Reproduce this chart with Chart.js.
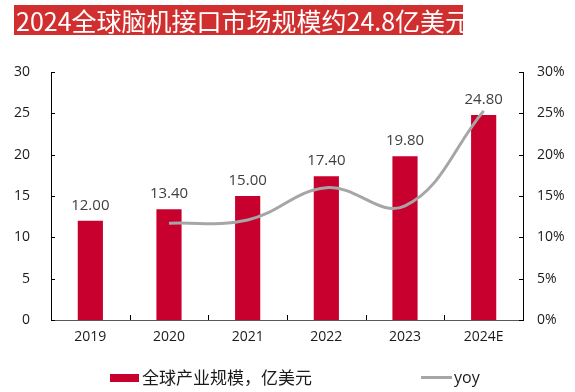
<!DOCTYPE html>
<html>
<head>
<meta charset="utf-8">
<script src="https://cdn.jsdelivr.net/npm/chart.js@4/dist/chart.umd.min.js"></script>
<style>
  body { margin: 0; background: #fff; }
  #wrap { position: relative; width: 575px; height: 392px; overflow: hidden; }
  #chart { position: absolute; left: 0; top: 0; }
  .title {
    position: absolute; left: 14px; top: 5px; width: 449px; height: 30px;
    background: #d12f2f; color: #fff; white-space: nowrap;
    font: 25px/30px "Noto Sans CJK SC", sans-serif; padding-left: 2px; box-sizing: border-box;
  }
  .lg-box { position: absolute; left: 110px; top: 374px; width: 29px; height: 8px; background: #c8002d; }
  .lg-text { position: absolute; top: 366px; font: 17px/22px "Noto Sans CJK SC", sans-serif; color: #1a1a1a; white-space: nowrap; }
  .lg-line { position: absolute; left: 421px; top: 376px; width: 31px; height: 3px; background: #a6a6a6; }
</style>
</head>
<body>
<div id="wrap">
  <canvas id="chart" width="575" height="392"></canvas>
  <div class="title">2024全球脑机接口市场规模约24.8亿美元</div>
  <div class="lg-box"></div>
  <div class="lg-text" style="left:142px">全球产业规模，亿美元</div>
  <div class="lg-line"></div>
  <div class="lg-text" style="left:454px;font-family:'Open Sans',sans-serif;font-size:16px">yoy</div>
</div>
<script>
// data
const years = ['2019', '2020', '2021', '2022', '2023', '2024E'];
const marketSize = [12.0, 13.4, 15.0, 17.4, 19.8, 24.8];
const yoy = [null, 11.7, 12.1, 16.0, 13.8, 25.3];
const leftTicks = [0, 5, 10, 15, 20, 25, 30];
const rightTicks = [0, 5, 10, 15, 20, 25, 30];

const barColor = '#c8002d';
const lineColor = '#a6a6a6';

// value labels above the bars (bar dataset is index 1)
const barLabels = {
    id: 'barLabels',
    afterDatasetsDraw(chart) {
        const ctx = chart.ctx;
        const meta = chart.getDatasetMeta(1);
        ctx.save();
        ctx.font = '15px "Open Sans", sans-serif';
        ctx.fillStyle = '#404040';
        ctx.textAlign = 'center';
        ctx.textBaseline = 'alphabetic';
        meta.data.forEach((bar, i) => {
            ctx.fillText(marketSize[i].toFixed(2), bar.x, bar.y - 11);
        });
        ctx.restore();
    }
};

// small tick marks pointing inside the plot
const innerTicks = {
    id: 'innerTicks',
    afterDraw(chart) {
        const ctx = chart.ctx;
        const area = chart.chartArea;
        const y = chart.scales.y, y1 = chart.scales.y1, x = chart.scales.x;
        ctx.save();
        ctx.strokeStyle = '#000';
        ctx.lineWidth = 1;
        ctx.beginPath();
        leftTicks.forEach(v => {
            const py = Math.round(y.getPixelForValue(v)) + 0.5;
            ctx.moveTo(area.left, py); ctx.lineTo(area.left + 4, py);
        });
        rightTicks.forEach(v => {
            const py = Math.round(y1.getPixelForValue(v)) + 0.5;
            ctx.moveTo(area.right - 4, py); ctx.lineTo(area.right, py);
        });
        const step = x.getPixelForValue(1) - x.getPixelForValue(0);
        for (let i = 1; i < years.length; i++) {
            const px = Math.round(x.getPixelForValue(i) - step / 2) + 0.5;
            ctx.moveTo(px, area.bottom); ctx.lineTo(px, area.bottom - 5);
        }
        ctx.stroke();
        ctx.restore();
    }
};

const config = {
    data: {
        labels: years,
        datasets: [{
            type: 'line',
            label: 'yoy',
            data: yoy,
            yAxisID: 'y1',
            borderColor: lineColor,
            borderWidth: 3,
            tension: 0.4,
            pointRadius: 0,
            fill: false,
            order: 0
        }, {
            type: 'bar',
            label: '全球产业规模，亿美元',
            data: marketSize,
            yAxisID: 'y',
            backgroundColor: barColor,
            barPercentage: 0.32,
            categoryPercentage: 1,
            order: 1
        }]
    },
    options: {
        responsive: false,
        animation: false,
        layout: { padding: { top: 72, bottom: 32, left: 0, right: 0 } },
        plugins: { legend: { display: false }, tooltip: { enabled: false } },
        scales: {
            x: {
                grid: { display: false, drawTicks: false },
                border: { color: '#595959', width: 1 },
                ticks: { color: '#1a1a1a', padding: 9, font: { family: 'Open Sans', size: 14 } },
                afterFit(scale) { scale.height = 40; }
            },
            y: {
                position: 'left',
                min: 0, max: 30,
                grid: { display: false, drawTicks: false },
                border: { color: '#000', width: 1 },
                ticks: { stepSize: 5, color: '#1a1a1a', padding: 21, font: { family: 'Open Sans', size: 14 } },
                afterFit(scale) { scale.width = 51; }
            },
            y1: {
                position: 'right',
                min: 0, max: 30,
                grid: { display: false, drawTicks: false },
                border: { color: '#000', width: 1 },
                ticks: {
                    stepSize: 5, color: '#1a1a1a', padding: 14, font: { family: 'Open Sans', size: 14 },
                    callback: v => v + '%'
                },
                afterFit(scale) { scale.width = 52; }
            }
        }
    },
    plugins: [barLabels, innerTicks]
};

const myChart = new Chart(document.getElementById('chart'), config);
</script>
</body>
</html>
